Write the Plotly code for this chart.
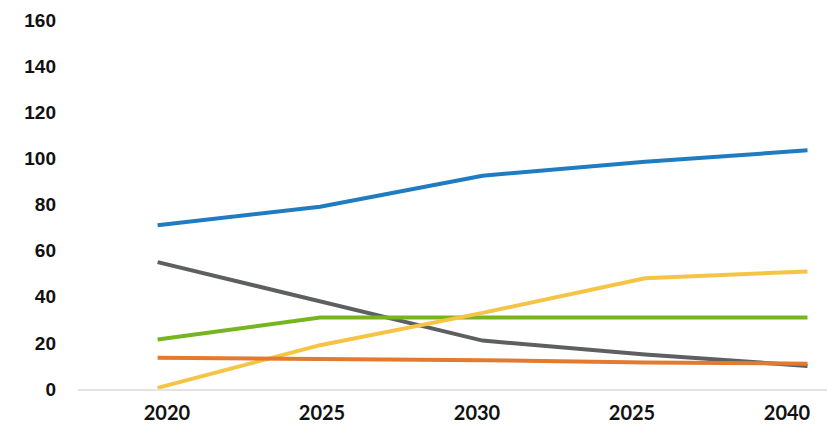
import plotly.graph_objects as go

categories = ["2020", "2025", "2030", "2025 ", "2040"]
tick_labels = ["2020", "2025", "2030", "2025", "2040"]

blue = [71, 79, 92.5, 98.5, 103.5]
gray = [55, 38, 21, 15, 10]
green = [21.5, 31, 31, 31, 31]
yellow = [0.5, 19, 33, 48, 51]
orange = [13.5, 13, 12.5, 11.5, 11]

series = [
    ("Blue", blue, "#1f7cc1"),
    ("Gray", gray, "#5e5f61"),
    ("Green", green, "#76b51e"),
    ("Yellow", yellow, "#f6c445"),
    ("Orange", orange, "#e27a30"),
]

x_idx = list(range(len(categories)))

fig = go.Figure()
for name, vals, col in series:
    fig.add_trace(go.Scatter(x=x_idx, y=vals, mode="lines", name=name,
                             line=dict(color=col, width=4), hoverinfo="skip"))

# invisible trace carrying the label axis
fig.add_trace(go.Scatter(x=x_idx, y=[None] * len(x_idx), xaxis="x2",
                         mode="lines", showlegend=False, hoverinfo="skip"))

fig.update_layout(
    width=827, height=429,
    margin=dict(l=78, r=0, t=20, b=40),
    paper_bgcolor="white", plot_bgcolor="white",
    showlegend=False,
    xaxis=dict(
        range=[-0.49, 4.12],
        showticklabels=False,
        showgrid=False, zeroline=False,
        showline=True, linecolor="#e3e3e3", linewidth=2,
        ticks="",
    ),
    xaxis2=dict(
        overlaying="x", anchor="y", side="bottom",
        range=[-0.574, 4.258],
        tickmode="array", tickvals=x_idx, ticktext=tick_labels,
        showgrid=False, zeroline=False, showline=False,
        ticks="", ticklabelstandoff=10, ticklabeloverflow="allow",
        tickfont=dict(family="Lato", size=20, color="#111111", weight="bold"),
    ),
    yaxis=dict(
        range=[0, 160], tickmode="linear", tick0=0, dtick=20,
        showgrid=False, zeroline=False, showline=False,
        ticks="", ticklabelstandoff=21,
        tickfont=dict(family="Liberation Sans", size=19, color="#111111", weight="bold"),
    ),
)

fig.write_html("out.html")
